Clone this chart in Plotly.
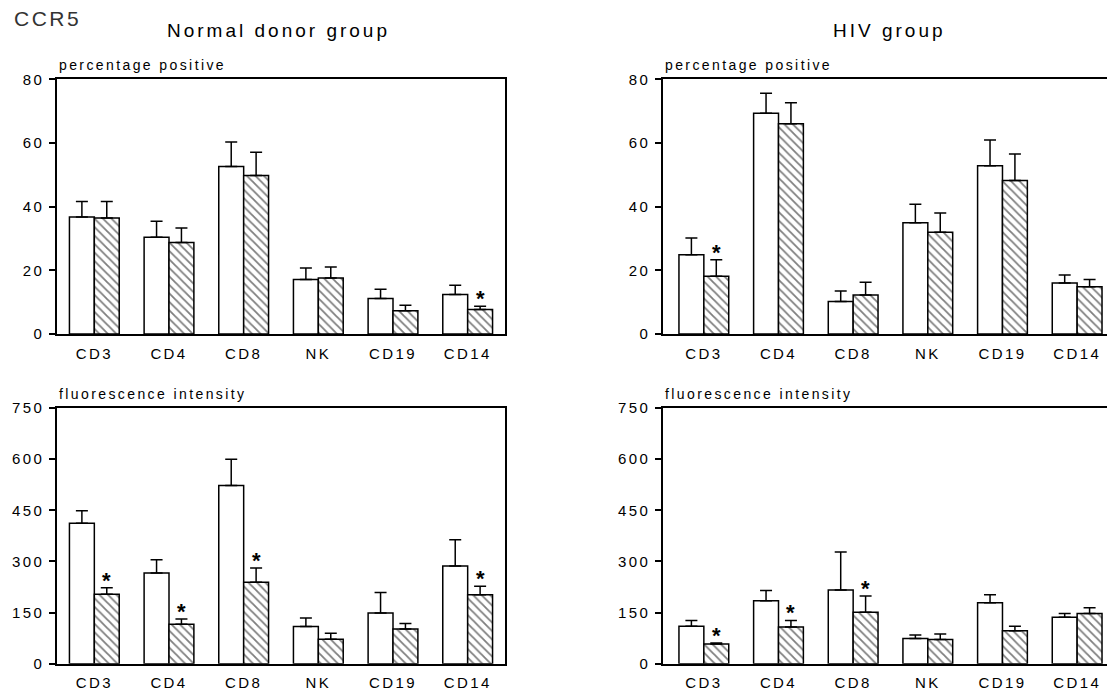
import plotly.graph_objects as go

# ---------------- data ----------------
categories = ["CD3", "CD4", "CD8", "NK", "CD19", "CD14"]

# Normal donor group - percentage positive
nd_pct_open = [36.7, 30.4, 52.6, 17.1, 11.1, 12.4]
nd_pct_open_sem = [4.9, 5.0, 7.7, 3.6, 2.9, 2.9]
nd_pct_hatch = [36.4, 28.7, 49.8, 17.6, 7.3, 7.7]
nd_pct_hatch_sem = [5.2, 4.6, 7.3, 3.4, 1.7, 1.0]
nd_pct_star = [False, False, False, False, False, True]

# HIV group - percentage positive
hiv_pct_open = [24.9, 69.3, 10.2, 34.9, 52.8, 16.0]
hiv_pct_open_sem = [5.2, 6.3, 3.3, 5.8, 8.1, 2.5]
hiv_pct_hatch = [18.1, 66.0, 12.2, 31.9, 48.2, 14.8]
hiv_pct_hatch_sem = [5.2, 6.6, 4.0, 6.1, 8.3, 2.3]
hiv_pct_star = [True, False, False, False, False, False]

# Normal donor group - fluorescence intensity
nd_fi_open = [412, 266, 523, 109, 149, 287]
nd_fi_open_sem = [37, 39, 77, 25, 60, 77]
nd_fi_hatch = [204, 116, 239, 72, 102, 202]
nd_fi_hatch_sem = [19, 15, 42, 17, 16, 25]
nd_fi_star = [True, True, True, False, False, True]

# HIV group - fluorescence intensity
hiv_fi_open = [110, 185, 216, 74, 179, 136]
hiv_fi_open_sem = [17, 30, 112, 10, 23, 11]
hiv_fi_hatch = [58, 108, 151, 71, 97, 147]
hiv_fi_hatch_sem = [3, 19, 48, 16, 13, 17]
hiv_fi_star = [True, True, True, False, False, False]

pct_ticks = [0, 20, 40, 60, 80]
fi_ticks = [0, 150, 300, 450, 600, 750]

# ---------------- styling ----------------
W, H = 1107, 700
FONT = "Liberation Sans, Arial, sans-serif"
LS = 2.4


def sp(t, ls=LS):
    return f'<span style="letter-spacing:{ls}px">{t}</span>'


def px_x(p):
    return p / W


def px_y(p):
    return 1 - p / H


panels = [
    dict(xa="x", ya="y", xd=(57, 505), yd=(72, 333), xr=[-0.5, 5.5],
         o=nd_pct_open, os=nd_pct_open_sem, h=nd_pct_hatch, hs=nd_pct_hatch_sem,
         star=nd_pct_star, label="percentage positive", ticks=pct_ticks, yr=[0, 80], my=True),
    dict(xa="x2", ya="y2", xd=(663, 1107), yd=(72, 333), xr=[-0.547, 5.40],
         o=hiv_pct_open, os=hiv_pct_open_sem, h=hiv_pct_hatch, hs=hiv_pct_hatch_sem,
         star=hiv_pct_star, label="percentage positive", ticks=pct_ticks, yr=[0, 80], my=False),
    dict(xa="x3", ya="y3", xd=(57, 505), yd=(409, 671), xr=[-0.5, 5.5],
         o=nd_fi_open, os=nd_fi_open_sem, h=nd_fi_hatch, hs=nd_fi_hatch_sem,
         star=nd_fi_star, label="fluorescence intensity", ticks=fi_ticks, yr=[0, 750], my=True),
    dict(xa="x4", ya="y4", xd=(663, 1107), yd=(409, 671), xr=[-0.547, 5.40],
         o=hiv_fi_open, os=hiv_fi_open_sem, h=hiv_fi_hatch, hs=hiv_fi_hatch_sem,
         star=hiv_fi_star, label="fluorescence intensity", ticks=fi_ticks, yr=[0, 750], my=False),
]

fig = go.Figure()
annotations = []
layout_axes = {}

for p in panels:
    err_style = dict(type="data", symmetric=False, color="black", thickness=1.5, width=6)
    fig.add_trace(go.Bar(
        x=categories, y=p["o"], xaxis=p["xa"], yaxis=p["ya"],
        marker=dict(color="white", line=dict(color="black", width=1.5)),
        error_y=dict(array=p["os"], arrayminus=[0] * len(categories), **err_style),
        offsetgroup="a", showlegend=False,
    ))
    fig.add_trace(go.Bar(
        x=categories, y=p["h"], xaxis=p["xa"], yaxis=p["ya"],
        marker=dict(color="white", line=dict(color="black", width=1.5),
                    pattern=dict(shape="\\", fgcolor="black", bgcolor="white",
                                 size=6, solidity=0.3)),
        error_y=dict(array=p["hs"], arrayminus=[0] * len(categories), **err_style),
        offsetgroup="b", showlegend=False,
    ))

    xkey = "xaxis" + p["xa"][1:]
    ykey = "yaxis" + p["ya"][1:]
    layout_axes[xkey] = dict(
        domain=[px_x(p["xd"][0]), min(1.0, px_x(p["xd"][1]))],
        anchor=p["ya"], type="category", range=p["xr"],
        showline=True, linecolor="black", linewidth=1.5, mirror=True,
        ticks="", showgrid=False, zeroline=False,
        tickmode="array", tickvals=categories, ticktext=[sp(c) for c in categories],
        tickfont=dict(family=FONT, size=15, color="black"),
        ticklabelstandoff=5,
    )
    layout_axes[ykey] = dict(
        domain=[px_y(p["yd"][1]), px_y(p["yd"][0])],
        anchor=p["xa"], range=p["yr"],
        showline=True, linecolor="black", linewidth=1.5, mirror=p["my"],
        ticks="outside", ticklen=6, tickwidth=1.5, tickcolor="black",
        showgrid=False, zeroline=False,
        tickmode="array", tickvals=p["ticks"], ticktext=[sp(t) for t in p["ticks"]],
        tickfont=dict(family=FONT, size=15, color="black"),
        ticklabelstandoff=2,
    )
    annotations.append(dict(
        text=sp(p["label"]), xref=p["xa"] + " domain", yref=p["ya"] + " domain",
        x=0, y=1, xanchor="left", yanchor="bottom", yshift=4, showarrow=False,
        font=dict(family=FONT, size=14, color="black"),
    ))
    for c, v, s, flag in zip(categories, p["h"], p["hs"], p["star"]):
        if flag:
            annotations.append(dict(
                text="<b>*</b>", xref=p["xa"], yref=p["ya"], x=c, y=v + s,
                xanchor="center", yanchor="bottom", xshift=12.4, yshift=-7,
                showarrow=False, font=dict(family=FONT, size=22, color="black"),
            ))

annotations.append(dict(text=sp("CCR5", 2.5), xref="paper", yref="paper", x=px_x(12), y=px_y(10),
                        xanchor="left", yanchor="middle", showarrow=False,
                        font=dict(family=FONT, size=21, color="#333")))
annotations.append(dict(text=sp("Normal donor group", 3), xref="paper", yref="paper",
                        x=px_x(278), y=px_y(22), xanchor="center", yanchor="middle",
                        showarrow=False, font=dict(family=FONT, size=19, color="black")))
annotations.append(dict(text=sp("HIV group", 3), xref="paper", yref="paper",
                        x=px_x(889), y=px_y(22), xanchor="center", yanchor="middle",
                        showarrow=False, font=dict(family=FONT, size=19, color="black")))

fig.update_layout(
    width=W, height=H, margin=dict(l=0, r=0, t=0, b=0),
    paper_bgcolor="white", plot_bgcolor="white",
    barmode="group", bargap=1 / 3, bargroupgap=0,
    annotations=annotations, showlegend=False,
    **layout_axes,
)

fig.write_html("out.html")
